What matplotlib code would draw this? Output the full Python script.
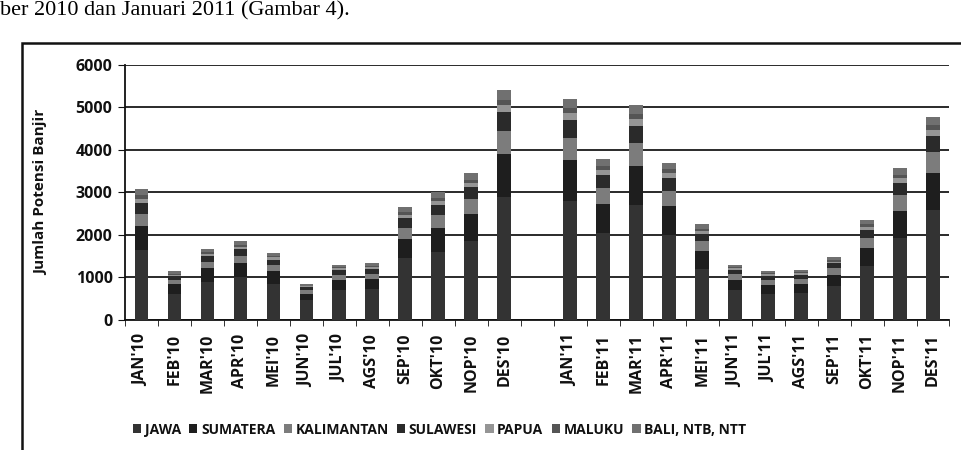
import matplotlib
matplotlib.use("Agg")
import matplotlib.pyplot as plt
import numpy as np
from matplotlib.patches import Rectangle

categories = ["JAN'10", "FEB'10", "MAR'10", "APR'10", "MEI'10", "JUN'10", "JUL'10", "AGS'10",
              "SEP'10", "OKT'10", "NOP'10", "DES'10", "",
              "JAN'11", "FEB'11", "MAR'11", "APR'11", "MEI'11", "JUN'11", "JUL'11", "AGS'11",
              "SEP'11", "OKT'11", "NOP'11", "DES'11"]

jawa       = [1650, 620, 900, 1000, 850, 470, 700, 720, 1450, 1600, 1850, 2900, 0,
              2800, 2050, 2700, 2000, 1200, 700, 620, 630, 790, 1260, 1920, 2580]
sumatera   = [550, 220, 320, 330, 290, 150, 240, 240, 460, 560, 640, 1000, 0,
              950, 680, 930, 670, 420, 240, 210, 215, 270, 430, 650, 870]
kalimantan = [300, 100, 150, 180, 150, 80, 120, 130, 260, 300, 350, 550, 0,
              530, 380, 520, 370, 230, 130, 120, 120, 150, 240, 360, 490]
sulawesi   = [250, 90, 130, 150, 130, 70, 110, 110, 220, 250, 280, 450, 0,
              430, 310, 420, 300, 180, 100, 90, 95, 120, 190, 290, 390]
papua      = [90, 30, 50, 60, 50, 20, 40, 40, 80, 90, 100, 160, 0,
              150, 110, 150, 110, 70, 40, 30, 35, 40, 70, 110, 140]
maluku     = [90, 30, 40, 40, 40, 20, 30, 30, 60, 70, 80, 120, 0,
              120, 90, 120, 90, 50, 30, 30, 25, 30, 60, 80, 110]
bali       = [150, 60, 90, 90, 70, 40, 60, 60, 120, 130, 150, 220, 0,
              220, 160, 210, 160, 100, 60, 50, 50, 70, 100, 160, 200]

series_names = ["JAWA", "SUMATERA", "KALIMANTAN", "SULAWESI", "PAPUA", "MALUKU", "BALI, NTB, NTT"]
series = [jawa, sumatera, kalimantan, sulawesi, papua, maluku, bali]
colors = ["#333333", "#1e1e1e", "#7c7c7c", "#2a2a2a", "#959595", "#555555", "#707070"]

plt.rcParams['font.family'] = ['Open Sans', 'DejaVu Sans']

fig = plt.figure(figsize=(9.62, 4.5), dpi=100)
ax = fig.add_axes([0.130, 0.289, 0.857, 0.567])

x = np.arange(len(categories))
bottom = np.zeros(len(categories))
handles = []
for name, vals, c in zip(series_names, series, colors):
    v = np.array(vals, dtype=float)
    b = ax.bar(x, v, bottom=bottom, width=0.42, color=c, label=name, zorder=3)
    bottom += v
    handles.append(b)

ax.set_ylim(0, 6000)
ax.set_xlim(-0.5, len(categories) - 0.5)
ax.set_yticks(np.arange(0, 6001, 1000))
ax.yaxis.grid(True, color="#2a2a2a", linewidth=1.4, zorder=0)
ax.set_axisbelow(True)
for s in ["top", "right"]:
    ax.spines[s].set_visible(False)
ax.spines["left"].set_color("#111111")
ax.spines["bottom"].set_color("#111111")
ax.spines["left"].set_linewidth(1.3)
ax.spines["bottom"].set_linewidth(1.3)

ax.set_xticks(x)
ax.set_xticklabels(categories, rotation=90, fontsize=11.5, fontweight="bold", color="#111111")
ax.tick_params(axis="x", length=0, pad=10)
ax.set_xticks(np.arange(-0.5, len(categories), 1), minor=True)
ax.tick_params(axis="x", which="minor", length=4, direction="out", color="#111111")
ax.tick_params(axis="y", length=5, direction="out", labelsize=11.5, color="#111111", pad=4)
for lbl in ax.get_yticklabels():
    lbl.set_fontweight("bold")
    lbl.set_color("#111111")
ax.set_ylabel("Jumlah Potensi Banjir", fontsize=11, fontweight="bold", color="#111111", labelpad=20)

fig.legend(handles=handles, labels=series_names, loc="center left",
           bbox_to_anchor=(0.125, 0.045), ncol=7, frameon=False,
           handlelength=0.6, handleheight=0.6, handletextpad=0.25,
           columnspacing=0.6,
           prop={'size': 10, 'weight': 'bold'},
           labelcolor="#111111")

fig.patches.append(Rectangle((0.023, -0.05), 1.2, 0.955, transform=fig.transFigure,
                             fill=False, edgecolor="#111111", linewidth=1.8))

fig.text(0.0, 0.975, "ber 2010 dan Januari 2011 (Gambar 4).", family="Liberation Serif",
         fontsize=16, va="center", ha="left", color="#000000")

fig.savefig("out.png", dpi=100)
